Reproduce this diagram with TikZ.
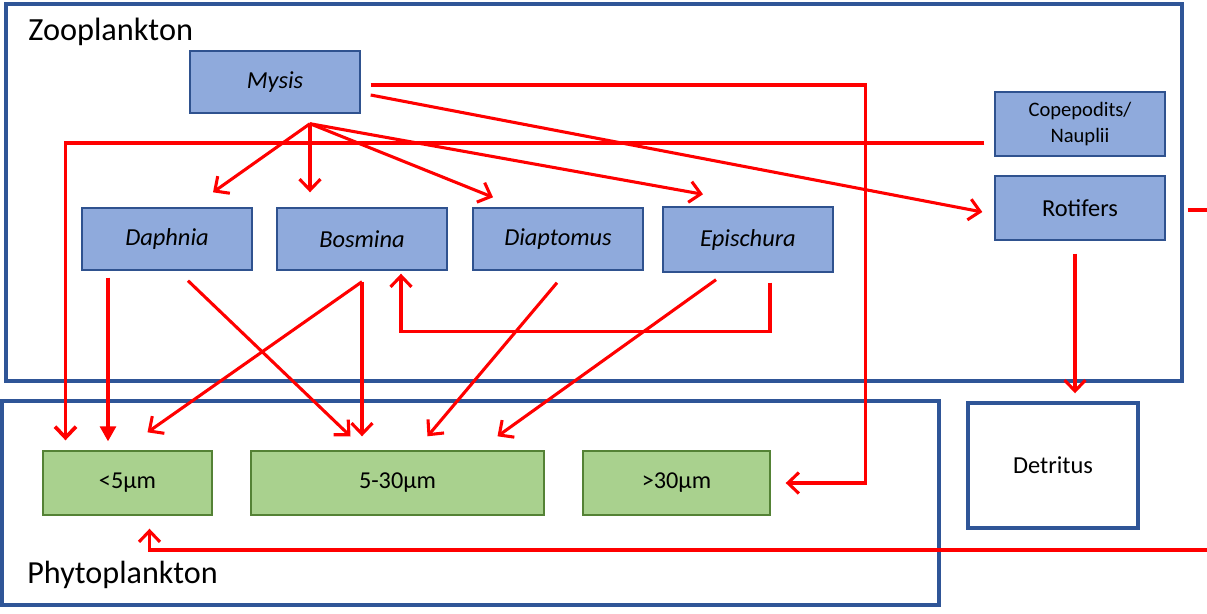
\documentclass[tikz,border=0pt]{standalone}
\usepackage{fontspec}
\setmainfont{Carlito}
\usetikzlibrary{arrows.meta,calc}
\definecolor{frameblue}{HTML}{2F5597}
\definecolor{zoofill}{HTML}{8FAADC}
\definecolor{zooline}{HTML}{2F528F}
\definecolor{phytofill}{HTML}{A9D18E}
\definecolor{phytoline}{HTML}{548235}
\definecolor{feedred}{HTML}{FF0000}
\begin{document}
\begin{tikzpicture}[x=0.02cm,y=-0.02cm,
	zoo/.style={draw=zooline,fill=zoofill,line width=0.8pt,minimum width=3.4cm,minimum height=1.24cm,inner sep=0pt,font=\fontsize{13.9}{16}\selectfont},
	phyto/.style={draw=phytoline,fill=phytofill,line width=0.8pt,minimum height=1.28cm,inner sep=0pt,font=\fontsize{13.8}{16}\selectfont},
	frame/.style={draw=frameblue,line width=2pt},
	feed/.style={draw=feedred,line width=1.75pt,-{Straight Barb[length=2.2mm,width=4.2mm]}},
	link/.style={draw=feedred,line width=1.75pt}]
	\useasboundingbox (0,0) rectangle (1207,613);
	
	% groups
	\draw[frame] (6,4) rectangle (1182,381);
	\node[anchor=west,inner sep=0pt,font=\fontsize{18.4}{21}\selectfont] (zoolabel) at (28,32) {Zooplankton};
	\draw[frame] (2,401) rectangle (939,605);
	\node[anchor=west,inner sep=0pt,font=\fontsize{18.3}{21}\selectfont] (phytolabel) at (27,575) {Phytoplankton};
	
	% zooplankton
	\node[zoo] (mysis) at (275,82) {\itshape Mysis};
	\node[zoo] (daph) at (167,239) {\itshape Daphnia};
	\node[zoo] (bos) at (362,239) {\itshape Bosmina};
	\node[zoo] (diap) at (558,239) {\itshape Diaptomus};
	\node[zoo,minimum height=1.3cm] (epi) at (748,239.5) {\itshape Epischura};
	\node[zoo,minimum height=1.28cm,align=center,font=\fontsize{11.7}{15}\selectfont] (cop) at (1080,124) {Copepodits/\\Nauplii};
	\node[zoo,minimum height=1.28cm] (rot) at (1080,208) {Rotifers};
	
	% phytoplankton and detritus
	\node[phyto,minimum width=3.38cm] (lt5) at (127.5,483) {<5µm};
	\node[phyto,minimum width=5.86cm] (mid) at (397.5,483) {5-30µm};
	\node[phyto,minimum width=3.74cm] (gt30) at (676.5,483) {>30µm};
	\node[frame,minimum width=3.4cm,minimum height=2.5cm,font=\fontsize{13.9}{16}\selectfont] (det) at (1053,465.5) {Detritus};
	
	% Mysis
	\draw[feed] ($(mysis.east)+(10,3)$) -| ($(gt30.east)+(95,0)$) -- ($(gt30.east)+(15,0)$);
	\draw[feed] ($(mysis.east)+(10,13)$) -- ($(rot.west)+(-12,4)$);
	\coordinate (fan) at ($(mysis.south)+(35,10)$);
	\draw[feed] (fan) -- ($(daph.north)+(46,-15)$);
	\draw[feed] (fan) -- ($(bos.north)+(-52,-15)$);
	\draw[feed] (fan) -- ($(diap.north)+(-65,-10)$);
	\draw[feed] (fan) -- ($(epi.north)+(-45,-12)$);
	
	% Copepodits, Rotifers
	\draw[feed,line width=2.1pt] ($(cop.west)+(-10,19)$) -| ($(lt5.north)+(-62,-10)$);
	\coordinate (outr) at (1207,210);
	\coordinate (outb) at (1207,550);
	\draw[link] ($(rot.east)+(22,2)$) -- (outr);
	\draw[feed] (outb) -| ($(lt5.south)+(22,13)$);
	\draw[feed] ($(rot.south)+(-5,13)$) coordinate (r1) -- ($(r1 |- det.north)+(0,-8)$);
	
	% cladocerans and copepods
	\draw[feed,-{Triangle[length=3mm,width=3.2mm]}] ($(daph.south)+(-59,7)$) coordinate (d1) -- ($(d1 |- lt5.north)+(0,-9)$);
	\draw[feed] ($(daph.south)+(21,10)$) -- ($(mid.north)+(-47,-14)$);
	\draw[feed] ($(bos.south)+(0,11)$) -- ($(lt5.north)+(20,-18)$);
	\draw[feed] ($(bos.south)+(0,11)$) -- ($(mid.north)+(-35.5,-14)$);
	\draw[feed] ($(diap.south)+(-1,12)$) -- ($(mid.north)+(30,-14)$);
	\draw[feed] ($(epi.south)+(-32,7)$) -- ($(mid.north)+(100,-14)$);
	\draw[feed] ($(epi.south)+(22,10)$) |- ($(bos.south)+(39,61)$) -- ($(bos.south)+(39,3)$);
\end{tikzpicture}
\end{document}
